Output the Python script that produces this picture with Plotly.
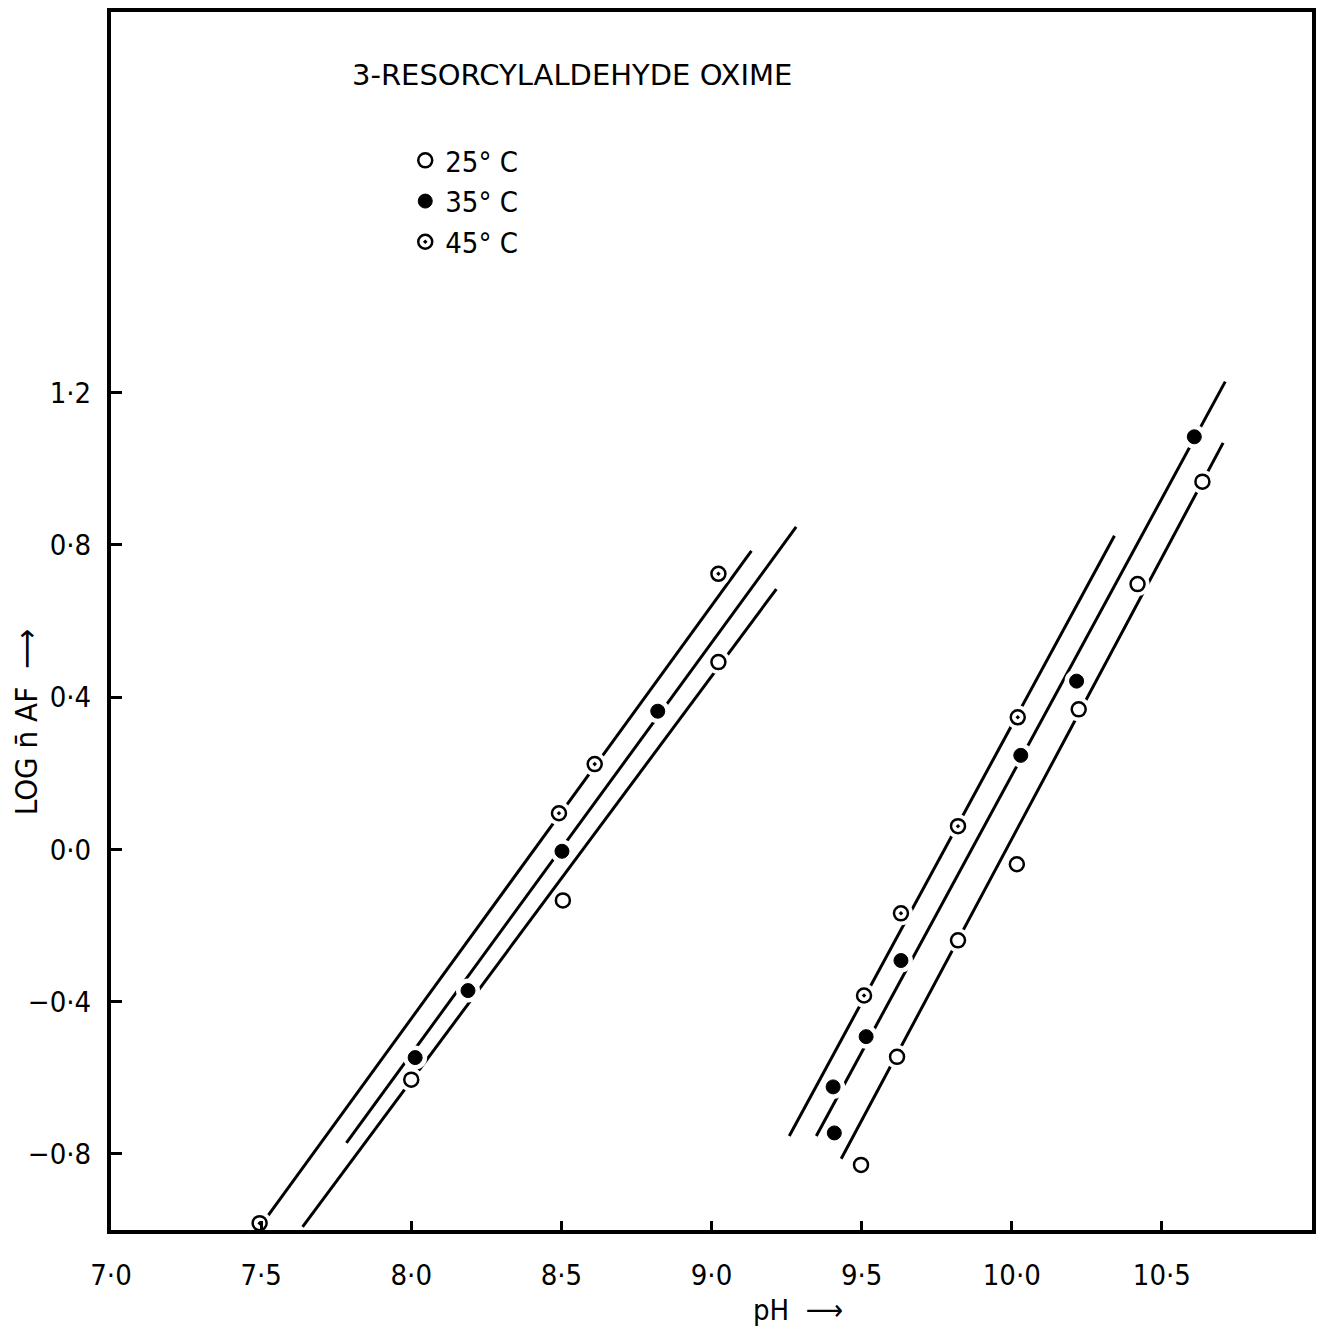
import plotly.graph_objects as go

# ---------------- data ----------------
ph_25 = [8.000, 8.505, 9.023, 9.498, 9.618, 9.821, 10.017, 10.223, 10.419, 10.635]
log_25 = [-0.605, -0.134, 0.492, -0.829, -0.545, -0.239, -0.039, 0.368, 0.697, 0.966]

ph_35 = [8.013, 8.189, 8.502, 8.821, 9.405, 9.409, 9.515, 9.631, 10.030, 10.216, 10.608]
log_35 = [-0.547, -0.371, -0.005, 0.363, -0.624, -0.745, -0.492, -0.292, 0.247, 0.442, 1.084]

ph_45 = [7.495, 8.492, 8.611, 9.023, 9.508, 9.631, 9.821, 10.020]
log_45 = [-0.982, 0.095, 0.224, 0.724, -0.384, -0.168, 0.061, 0.347]

# fitted straight lines (two segments each, separated by None)
fit_25_x = [7.638, 9.216, None, 9.432, 10.704]
fit_25_y = [-0.992, 0.684, None, -0.813, 1.068]
fit_35_x = [7.784, 9.282, None, 9.349, 10.711]
fit_35_y = [-0.771, 0.847, None, -0.753, 1.229]
fit_45_x = [7.512, 9.133, None, 9.259, 10.342]
fit_45_y = [-0.974, 0.784, None, -0.753, 0.824]

x_ticks = [7.0, 7.5, 8.0, 8.5, 9.0, 9.5, 10.0, 10.5]
y_ticks = [-0.8, -0.4, 0.0, 0.4, 0.8, 1.2]

labels = ["25° C", "35° C", "45° C"]
title_text = "3-RESORCYLALDEHYDE OXIME"
x_title = "pH  ⟶"
y_title = "LOG n̄ AF  ⟶"


def dot_label(v):
    s = f"{abs(v):.1f}".replace(".", "·")
    return ("−" + s) if v < 0 else s


FONT = "DejaVu Sans Condensed, Liberation Sans Narrow, DejaVu Sans, sans-serif"

fig = go.Figure()

# lines
for fx, fy in [(fit_25_x, fit_25_y), (fit_35_x, fit_35_y), (fit_45_x, fit_45_y)]:
    fig.add_trace(go.Scatter(x=fx, y=fy, mode="lines", showlegend=False,
                             line=dict(color="black", width=3), hoverinfo="skip"))

# white halos that break the lines around the points
fig.add_trace(go.Scatter(x=ph_25 + ph_35 + ph_45, y=log_25 + log_35 + log_45,
                         mode="markers", showlegend=False, hoverinfo="skip",
                         marker=dict(symbol="circle", size=24, color="white",
                                     line=dict(width=0))))

# points
fig.add_trace(go.Scatter(x=ph_25, y=log_25, mode="markers", name=labels[0],
                         marker=dict(symbol="circle", size=14, color="white",
                                     line=dict(color="black", width=2.5))))
fig.add_trace(go.Scatter(x=ph_35, y=log_35, mode="markers", name=labels[1],
                         marker=dict(symbol="circle", size=14, color="black",
                                     line=dict(color="black", width=1))))
fig.add_trace(go.Scatter(x=ph_45, y=log_45, mode="markers", name=labels[2],
                         marker=dict(symbol="circle-open-dot", size=14, color="black",
                                     line=dict(color="black", width=2.5))))

fig.update_layout(
    width=1321, height=1333,
    margin=dict(l=111, r=5, t=12, b=103),
    paper_bgcolor="white", plot_bgcolor="white",
    font=dict(family=FONT, color="black", size=28),
    showlegend=True,
    legend=dict(x=0.245, y=0.899, xanchor="left", yanchor="top",
                bgcolor="rgba(0,0,0,0)", font=dict(size=29, family=FONT),
                itemsizing="trace", tracegroupgap=0),
    xaxis=dict(range=[7.0, 11.0], showgrid=False, zeroline=False,
               showline=True, linecolor="black", linewidth=4, mirror=True,
               ticks="inside", ticklen=9, tickwidth=2.5, tickcolor="black",
               tickvals=x_ticks, ticktext=[dot_label(v) for v in x_ticks],
               tickfont=dict(size=29, family=FONT), ticklabelstandoff=16),
    yaxis=dict(range=[-1.0, 2.2], showgrid=False, zeroline=False,
               showline=True, linecolor="black", linewidth=4, mirror=True,
               ticks="inside", ticklen=11, tickwidth=2.5, tickcolor="black",
               tickvals=y_ticks, ticktext=[dot_label(v) for v in y_ticks],
               tickfont=dict(size=29, family=FONT), ticklabelstandoff=10),
    annotations=[
        dict(text=title_text, xref="paper", yref="paper",
             x=(574 - 111) / 1205, y=(1230 - 75) / 1218,
             xanchor="center", yanchor="middle", showarrow=False,
             font=dict(size=29, family="DejaVu Sans, sans-serif")),
        dict(text=x_title, xref="paper", yref="paper",
             x=(800 - 111) / 1205, y=(1230 - 1310) / 1218,
             xanchor="center", yanchor="middle", showarrow=False,
             font=dict(size=29, family=FONT)),
        dict(text=y_title, xref="paper", yref="paper",
             x=(26 - 111) / 1205, y=(1230 - 722) / 1218,
             xanchor="center", yanchor="middle", showarrow=False, textangle=-90,
             font=dict(size=31, family=FONT)),
    ],
)

fig.write_html("out.html")
